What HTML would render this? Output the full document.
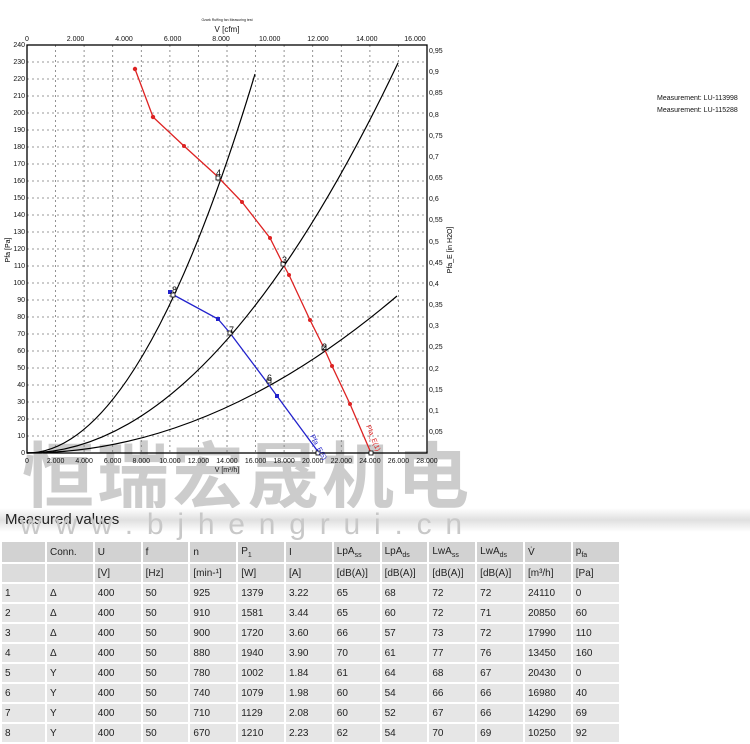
<!DOCTYPE html>
<html><head><meta charset="utf-8"><style>
body{margin:0;width:750px;height:744px;background:#fff;position:relative;overflow:hidden;font-family:"Liberation Sans","Noto Sans CJK SC",sans-serif}
.wm{position:absolute;left:22px;top:418px;font-size:72px;letter-spacing:3px;color:#c4c4c4;font-weight:bold;font-family:"Noto Sans CJK SC","WenQuanYi Zen Hei",sans-serif;opacity:.85;white-space:nowrap}
.bar{position:absolute;left:0;top:508px;width:750px;height:24px;background:linear-gradient(#fff,#e0e0e0 50%,#fff)}
.bar span{position:absolute;left:5px;top:3px;font-size:15px;color:#222}
.url{position:absolute;left:20px;top:508px;font-size:30px;letter-spacing:13.8px;color:#c8c8c8;white-space:nowrap}
table{position:absolute;left:0;top:540px;border-collapse:separate;border-spacing:2px;font-size:10px;color:#222}
td{height:18px;padding:0 0 0 3px;background:#e6e6e6;width:42.8px}
tr.h td{background:#d2d2d2;height:20px}
tr.u td{background:#dcdcdc}
td:first-child{width:40px}
sub{font-size:7px}
</style></head><body>
<div class="wm">恒瑞宏晟机电</div>
<svg width="750" height="500" style="position:absolute;left:0;top:0" font-family="Liberation Sans, sans-serif">
<g stroke="#777" stroke-dasharray="2,3" stroke-width="0.8">
<path d="M55.6 45V453M84.1 45V453M112.7 45V453M141.3 45V453M169.9 45V453M198.4 45V453M227 45V453M255.6 45V453M284.1 45V453M312.7 45V453M341.3 45V453M369.9 45V453M398.4 45V453"/>
<path d="M27 436H427M27 419H427M27 402H427M27 385H427M27 368H427M27 351H427M27 334H427M27 317H427M27 300H427M27 283H427M27 266H427M27 249H427M27 232H427M27 215H427M27 198H427M27 181H427M27 164H427M27 147H427M27 130H427M27 113H427M27 96H427M27 79H427M27 62H427"/>
</g>
<rect x="27" y="45" width="400" height="408" fill="none" stroke="#000" stroke-width="1.3"/>
<g font-size="7" fill="#111" text-anchor="end">
<text x="25" y="455">0</text><text x="25" y="438">10</text><text x="25" y="421">20</text><text x="25" y="404">30</text><text x="25" y="387">40</text><text x="25" y="370">50</text><text x="25" y="353">60</text><text x="25" y="336">70</text><text x="25" y="319">80</text><text x="25" y="302">90</text><text x="25" y="285">100</text><text x="25" y="268">110</text><text x="25" y="251">120</text><text x="25" y="234">130</text><text x="25" y="217">140</text><text x="25" y="200">150</text><text x="25" y="183">160</text><text x="25" y="166">170</text><text x="25" y="149">180</text><text x="25" y="132">190</text><text x="25" y="115">200</text><text x="25" y="98">210</text><text x="25" y="81">220</text><text x="25" y="64">230</text><text x="25" y="47">240</text>
</g>
<g font-size="7" fill="#111">
<text x="429" y="434">0,05</text><text x="429" y="413">0,1</text><text x="429" y="392">0,15</text><text x="429" y="371">0,2</text><text x="429" y="349">0,25</text><text x="429" y="328">0,3</text><text x="429" y="307">0,35</text><text x="429" y="286">0,4</text><text x="429" y="265">0,45</text><text x="429" y="244">0,5</text><text x="429" y="222">0,55</text><text x="429" y="201">0,6</text><text x="429" y="180">0,65</text><text x="429" y="159">0,7</text><text x="429" y="138">0,75</text><text x="429" y="117">0,8</text><text x="429" y="95">0,85</text><text x="429" y="74">0,9</text><text x="429" y="53">0,95</text>
</g>
<g font-size="7" fill="#111" text-anchor="middle">
<text x="27" y="463">0</text><text x="55.6" y="463">2.000</text><text x="84.1" y="463">4.000</text><text x="112.7" y="463">6.000</text><text x="141.3" y="463">8.000</text><text x="169.9" y="463">10.000</text><text x="198.4" y="463">12.000</text><text x="227" y="463">14.000</text><text x="255.6" y="463">16.000</text><text x="284.1" y="463">18.000</text><text x="312.7" y="463">20.000</text><text x="341.3" y="463">22.000</text><text x="369.9" y="463">24.000</text><text x="398.4" y="463">26.000</text><text x="427" y="463">28.000</text>
<text x="227" y="472">V [m³/h]</text>
<text x="27" y="41">0</text><text x="75.5" y="41">2.000</text><text x="124" y="41">4.000</text><text x="172.6" y="41">6.000</text><text x="221" y="41">8.000</text><text x="269.7" y="41">10.000</text><text x="318" y="41">12.000</text><text x="366.8" y="41">14.000</text><text x="415" y="41">16.000</text>
<text x="227" y="32" font-size="8">V [cfm]</text>
<text x="227" y="21" font-size="3.5">Ozark Ruffing fan Measuring test</text>
</g>
<text transform="translate(10 250) rotate(-90)" font-size="7" text-anchor="middle">Pfa [Pa]</text>
<text transform="translate(452 250) rotate(-90)" font-size="7" text-anchor="middle">Pfa_E [in H2O]</text>
<g fill="none" stroke="#000" stroke-width="1.2">
<path d="M27 453Q141 453 255 74"/>
<path d="M27 453Q212.5 453 398 63"/>
<path d="M27 453Q212 453 397 296"/>
</g>
<polyline fill="none" stroke="#d22" stroke-width="1.3" points="135,69 153,117 184,146 217,176 242,202 270,238 283,264 289,275 310,320 324,348 332,366 350,404 371,453"/>
<g fill="#d22"><circle cx="135" cy="69" r="2.2"/><circle cx="153" cy="117" r="2.2"/><circle cx="184" cy="146" r="2"/><circle cx="242" cy="202" r="2"/><circle cx="270" cy="238" r="2"/><circle cx="289" cy="275" r="2"/><circle cx="310" cy="320" r="2"/><circle cx="332" cy="366" r="2"/><circle cx="350" cy="404" r="2"/></g>
<polyline fill="none" stroke="#22c" stroke-width="1.3" points="170,293 218,319 230,333 266,381 277,396 319,453"/>
<g fill="#22c"><rect x="168" y="290" width="4" height="4"/><rect x="216" y="317" width="4" height="4"/><rect x="275" y="394" width="4" height="4"/></g>
<g fill="#fff" stroke="#000" stroke-width="0.8"><rect x="216" y="176" width="4" height="4"/><rect x="281" y="262" width="4" height="4"/><rect x="322" y="346" width="4" height="4"/><rect x="369" y="451" width="4" height="4"/><rect x="171" y="293" width="4" height="4"/><rect x="228" y="331" width="4" height="4"/><rect x="267" y="379" width="4" height="4"/><rect x="316" y="451" width="4" height="4"/></g>
<g font-size="9" fill="#000"><text x="216" y="176">4</text><text x="282" y="263">3</text><text x="322" y="350">2</text><text x="172" y="293">8</text><text x="229" y="333">7</text><text x="267" y="381">6</text></g>
<text transform="translate(310 436) rotate(62)" font-size="7" fill="#22c">Pfa_E(5)</text>
<text transform="translate(366 426) rotate(68)" font-size="7" fill="#d22">Pfa_E(1)</text>
<g font-size="7" fill="#111"><text x="657" y="100">Measurement: LU-113998</text><text x="657" y="112">Measurement: LU-115288</text></g>
</svg>
<div class="bar"><span>Measured values</span></div>
<div class="url">www.bjhengrui.cn</div>
<table>
<tr class="h"><td></td><td>Conn.</td><td>U</td><td>f</td><td>n</td><td>P<sub>1</sub></td><td>I</td><td>LpA<sub>ss</sub></td><td>LpA<sub>ds</sub></td><td>LwA<sub>ss</sub></td><td>LwA<sub>ds</sub></td><td>V̇</td><td>p<sub>fa</sub></td></tr>
<tr class="u"><td></td><td></td><td>[V]</td><td>[Hz]</td><td>[min-¹]</td><td>[W]</td><td>[A]</td><td>[dB(A)]</td><td>[dB(A)]</td><td>[dB(A)]</td><td>[dB(A)]</td><td>[m³/h]</td><td>[Pa]</td></tr>
<tr><td>1</td><td>Δ</td><td>400</td><td>50</td><td>925</td><td>1379</td><td>3.22</td><td>65</td><td>68</td><td>72</td><td>72</td><td>24110</td><td>0</td></tr>
<tr><td>2</td><td>Δ</td><td>400</td><td>50</td><td>910</td><td>1581</td><td>3.44</td><td>65</td><td>60</td><td>72</td><td>71</td><td>20850</td><td>60</td></tr>
<tr><td>3</td><td>Δ</td><td>400</td><td>50</td><td>900</td><td>1720</td><td>3.60</td><td>66</td><td>57</td><td>73</td><td>72</td><td>17990</td><td>110</td></tr>
<tr><td>4</td><td>Δ</td><td>400</td><td>50</td><td>880</td><td>1940</td><td>3.90</td><td>70</td><td>61</td><td>77</td><td>76</td><td>13450</td><td>160</td></tr>
<tr><td>5</td><td>Y</td><td>400</td><td>50</td><td>780</td><td>1002</td><td>1.84</td><td>61</td><td>64</td><td>68</td><td>67</td><td>20430</td><td>0</td></tr>
<tr><td>6</td><td>Y</td><td>400</td><td>50</td><td>740</td><td>1079</td><td>1.98</td><td>60</td><td>54</td><td>66</td><td>66</td><td>16980</td><td>40</td></tr>
<tr><td>7</td><td>Y</td><td>400</td><td>50</td><td>710</td><td>1129</td><td>2.08</td><td>60</td><td>52</td><td>67</td><td>66</td><td>14290</td><td>69</td></tr>
<tr><td>8</td><td>Y</td><td>400</td><td>50</td><td>670</td><td>1210</td><td>2.23</td><td>62</td><td>54</td><td>70</td><td>69</td><td>10250</td><td>92</td></tr>
</table>
</body></html>
